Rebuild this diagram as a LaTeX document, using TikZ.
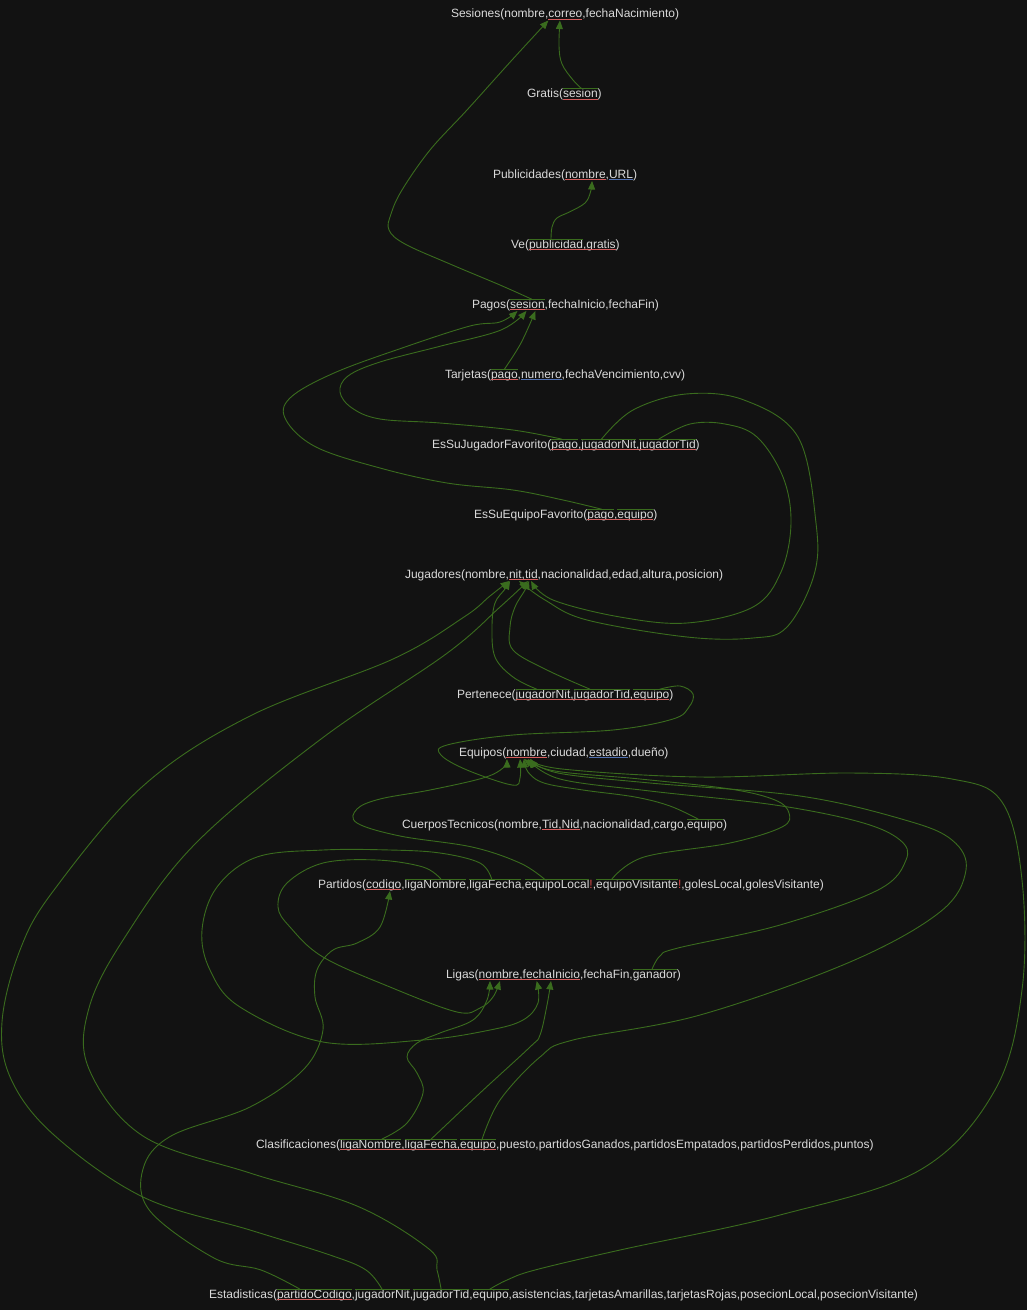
\documentclass[tikz,border=0pt]{standalone}
\usepackage{fontspec}
\setmainfont{Liberation Sans}
\usetikzlibrary{arrows.meta,calc}
\definecolor{bgc}{RGB}{18,18,18}
\definecolor{txtc}{RGB}{218,218,218}
\definecolor{linkc}{RGB}{58,108,30}
\definecolor{pkc}{RGB}{212,92,92}
\definecolor{ukc}{RGB}{80,112,178}
\definecolor{exc}{RGB}{215,70,70}
\newcommand\tabfont{\fontsize{12}{14}\selectfont}
\newcommand\nx[3]{\node[txt] (#1) at (#2.base east) {#3};}
\newcommand\pkul[2]{\draw[pkline] ($(#1.base west)+(0,1.8)$) -- ($(#2.base east)+(0,1.8)$);}
\newcommand\ukul[1]{\draw[ukline] ($(#1.base west)+(0,1.8)$) -- ($(#1.base east)+(0,1.8)$);}
\newcommand\fkol[1]{\draw[fkline] ($(#1.base west)+(0,-8.8)$) -- ($(#1.base east)+(0,-8.8)$);}
\newcommand\conn[6]{%
  \coordinate (#1a) at ($(#2.base west)+(#3,-8.8)$);
  \coordinate (#1b) at ($(#4.base west)+(#5,3)$);
  \draw[connline] plot[smooth,tension=0.6] coordinates {(#1a) #6 (#1b)};}
\tikzset{
  txt/.style={anchor=base west,inner sep=0pt,outer sep=0pt,text=txtc,font=\tabfont},
  pkline/.style={draw=pkc,line width=0.9pt},
  ukline/.style={draw=ukc,line width=0.9pt},
  fkline/.style={draw=linkc,line width=0.9pt},
  connline/.style={draw=linkc,line width=0.9pt,-{Triangle[length=8.5pt,width=7pt]},fill=none},
}
\begin{document}
\begin{tikzpicture}[x=1pt,y=-1pt]
\fill[bgc] (0,0) rectangle (1027,1310);
\useasboundingbox (0,0) rectangle (1027,1310);
% ---------- tables ----------
\node[txt] (S0) at (451,17.5) {Sesiones(nombre,};
\nx{Scorreo}{S0}{correo}
\nx{S1}{Scorreo}{,fechaNacimiento)}
\pkul{Scorreo}{Scorreo}

\node[txt] (G0) at (527,97.5) {Gratis(};
\nx{Gsesion}{G0}{sesion}
\nx{G1}{Gsesion}{)}
\pkul{Gsesion}{Gsesion}\fkol{Gsesion}

\node[txt] (P0) at (493,178) {Publicidades(};
\nx{Pnombre}{P0}{nombre}
\nx{P1}{Pnombre}{,}
\nx{PURL}{P1}{URL}
\nx{P2}{PURL}{)}
\pkul{Pnombre}{Pnombre}\ukul{PURL}

\node[txt] (V0) at (511,248) {Ve(};
\nx{Vpub}{V0}{publicidad}
\nx{V1}{Vpub}{,}
\nx{Vgra}{V1}{gratis}
\nx{V2}{Vgra}{)}
\pkul{Vpub}{Vgra}\fkol{Vpub}

\node[txt] (Pa0) at (472,308) {Pagos(};
\nx{Pasesion}{Pa0}{sesion}
\nx{Pa1}{Pasesion}{,fechaInicio,fechaFin)}
\pkul{Pasesion}{Pasesion}\fkol{Pasesion}

\node[txt] (T0) at (445,378) {Tarjetas(};
\nx{Tpago}{T0}{pago}
\nx{T1}{Tpago}{,}
\nx{Tnum}{T1}{numero}
\nx{T2}{Tnum}{,fechaVencimiento,cvv)}
\pkul{Tpago}{Tpago}\ukul{Tnum}\fkol{Tpago}

\node[txt] (J0) at (432,448) {EsSuJugadorFavorito(};
\nx{Jpago}{J0}{pago}
\nx{J1}{Jpago}{,}
\nx{Jnit}{J1}{jugadorNit}
\nx{J2}{Jnit}{,}
\nx{Jtid}{J2}{jugadorTid}
\nx{J3}{Jtid}{)}
\pkul{Jpago}{Jtid}\fkol{Jpago}\fkol{Jnit}\fkol{Jtid}

\node[txt] (E0) at (474,518) {EsSuEquipoFavorito(};
\nx{Epago}{E0}{pago}
\nx{E1}{Epago}{,}
\nx{Eequipo}{E1}{equipo}
\nx{E2}{Eequipo}{)}
\pkul{Epago}{Eequipo}\fkol{Epago}\fkol{Eequipo}

\node[txt] (Ju0) at (405,578) {Jugadores(nombre,};
\nx{Junit}{Ju0}{nit}
\nx{Ju1}{Junit}{,}
\nx{Jutid}{Ju1}{tid}
\nx{Ju2}{Jutid}{,nacionalidad,edad,altura,posicion)}
\pkul{Junit}{Jutid}

\node[txt] (Pe0) at (457,698) {Pertenece(};
\nx{Penit}{Pe0}{jugadorNit}
\nx{Pe1}{Penit}{,}
\nx{Petid}{Pe1}{jugadorTid}
\nx{Pe2}{Petid}{,}
\nx{Peequipo}{Pe2}{equipo}
\nx{Pe3}{Peequipo}{)}
\pkul{Penit}{Peequipo}\fkol{Penit}\fkol{Petid}\fkol{Peequipo}

\node[txt] (Eq0) at (459,756) {Equipos(};
\nx{Eqnombre}{Eq0}{nombre}
\nx{Eq1}{Eqnombre}{,ciudad,}
\nx{Eqest}{Eq1}{estadio}
\nx{Eq2}{Eqest}{,dueño)}
\pkul{Eqnombre}{Eqnombre}\ukul{Eqest}

\node[txt] (C0) at (402,828) {CuerposTecnicos(nombre,};
\nx{Ctid}{C0}{Tid}
\nx{C1}{Ctid}{,}
\nx{Cnid}{C1}{Nid}
\nx{C2}{Cnid}{,nacionalidad,cargo,}
\nx{Cequipo}{C2}{equipo}
\nx{C3}{Cequipo}{)}
\pkul{Ctid}{Cnid}\fkol{Cequipo}

\node[txt] (Pt0) at (318,888) {Partidos(};
\nx{Ptcod}{Pt0}{codigo}
\nx{Pt1}{Ptcod}{,}
\nx{Ptln}{Pt1}{ligaNombre}
\nx{Pt2}{Ptln}{,}
\nx{Ptlf}{Pt2}{ligaFecha}
\nx{Pt3}{Ptlf}{,}
\nx{Ptel}{Pt3}{equipoLocal}
\nx{Pt4}{Ptel}{{\color{exc}!},}
\nx{Ptev}{Pt4}{equipoVisitante}
\nx{Pt5}{Ptev}{{\color{exc}!},golesLocal,golesVisitante)}
\pkul{Ptcod}{Ptcod}\fkol{Ptln}\fkol{Ptlf}\fkol{Ptel}\fkol{Ptev}

\node[txt] (L0) at (446,978) {Ligas(};
\nx{Lnombre}{L0}{nombre}
\nx{L1}{Lnombre}{,}
\nx{Lfi}{L1}{fechaInicio}
\nx{L2}{Lfi}{,fechaFin,}
\nx{Lgan}{L2}{ganador}
\nx{L3}{Lgan}{)}
\pkul{Lnombre}{Lfi}\fkol{Lgan}

\node[txt] (Cl0) at (256,1148) {Clasificaciones(};
\nx{Clln}{Cl0}{ligaNombre}
\nx{Cl1}{Clln}{,}
\nx{Cllf}{Cl1}{ligaFecha}
\nx{Cl2}{Cllf}{,}
\nx{Cleq}{Cl2}{equipo}
\nx{Cl3}{Cleq}{,puesto,partidosGanados,partidosEmpatados,partidosPerdidos,puntos)}
\pkul{Clln}{Cleq}\fkol{Clln}\fkol{Cllf}\fkol{Cleq}

\node[txt] (Es0) at (209,1298) {Estadisticas(};
\nx{Escod}{Es0}{partidoCodigo}
\nx{Es1}{Escod}{,}
\nx{Esnit}{Es1}{jugadorNit}
\nx{Es2}{Esnit}{,}
\nx{Estid}{Es2}{jugadorTid}
\nx{Es3}{Estid}{,}
\nx{Eseq}{Es3}{equipo}
\nx{Es4}{Eseq}{,asistencias,tarjetasAmarillas,tarjetasRojas,posecionLocal,posecionVisitante)}
\pkul{Escod}{Escod}\fkol{Escod}\fkol{Esnit}\fkol{Estid}\fkol{Eseq}

% ---------- connectors ----------
\conn{k1}{Gsesion}{18.7}{Scorreo}{11.6}{(573,80) (562,64) (559,46)}
\conn{k2}{Pasesion}{21.7}{Scorreo}{0}{(500,285) (450,264) (405,244) (389,230) (391,214) (402,190) (430,150) (467,110) (512,60)}
\conn{k3}{Vpub}{22}{Pnombre}{27}{(552,227) (557,218) (570,211.7) (585,203) (590.5,192)}
\conn{k4}{Tpago}{13.4}{Pasesion}{25.4}{(521,343)}
\conn{k5}{Jpago}{10.6}{Pasesion}{16.4}{(513,430) (440,423) (380,419) (352,408) (340,392) (348,376) (380,362) (441,346) (501,330)}
\conn{k6}{Epago}{14.3}{Pasesion}{7.5}{(563,500) (513,490) (447,483) (380,468) (316,447) (286,420) (290,398) (334,373) (405,347) (470,326) (500,322)}
\conn{k7}{Jnit}{20}{Junit}{10}{(633,410) (686,394) (744,400) (798,437) (816,523) (814,575) (787,627) (753,638) (687,637) (587,620) (545,600)}
\conn{k8}{Jtid}{19.2}{Jutid}{6}{(690,424) (725,424) (757,437) (783,477) (791,523) (781,572) (753,607) (687,623) (620,617) (553,600)}
\conn{k9}{Penit}{21}{Junit}{1}{(513,677) (495,657) (492,627) (495,603) (505,589)}
\conn{k10}{Petid}{16.3}{Jutid}{4}{(547,670) (513,650) (510,627) (515,607) (525,590)}
\conn{k11}{Peequipo}{26.3}{Eqnombre}{13.6}{(680,686) (693,694) (689,707) (673,719) (613,730) (513,735) (447,745) (441,755) (467,770) (512,785) (520,778)}
\conn{k12}{Cequipo}{11.3}{Eqnombre}{17.6}{(670,806) (635,797) (583,790) (544,783) (528,772)}
\conn{k13}{Ptel}{19.8}{Eqnombre}{0.6}{(520,863) (472,847) (400,836) (357,823) (357,809) (380,799) (430,790) (483,778) (503,768)}
\conn{k14}{Ptev}{15.6}{Eqnombre}{17.6}{(644,857) (730,843) (782,827) (789,813) (775,800) (730,789) (640,779) (555,771)}
\conn{k15}{Lgan}{19.3}{Eqnombre}{21.6}{(660,956) (678,948) (780,925) (878,890) (906,860) (900,840) (860,822) (775,805) (650,791) (560,779)}
\conn{k16}{Cleq}{22}{Eqnombre}{23.6}{(500,1100) (540,1057) (573,1040) (700,1015) (850,962) (940,912) (966,870) (952,840) (905,820) (800,796) (650,783) (558,773)}
\conn{k17}{Eseq}{17}{Eqnombre}{24.6}{(507,1280) (535,1270) (620,1250) (780,1215) (920,1170) (995,1090) (1022,990) (1022,880) (1002,802) (952,779) (850,773) (700,777) (562,769)}
\conn{k18}{Ptln}{36.3}{Lnombre}{21.3}{(423,867) (377,860) (323,863) (287,883) (278,907) (290,927) (323,957) (390,987) (457,1012) (480,1008) (493,997)}
\conn{k19}{Ptlf}{22.3}{Lfi}{14}{(480,863) (440,853) (390,850) (323,850) (257,857) (217,887) (202,930) (210,970) (240,1007) (323,1042) (423,1040) (490,1030) (523,1020) (538,1003)}
\conn{k20}{Clln}{41.7}{Lnombre}{11.3}{(407,1123) (423,1093) (417,1073) (407,1057) (417,1043) (440,1033) (473,1020) (487,1000)}
\conn{k21}{Cllf}{26.3}{Lfi}{28.3}{(480,1093) (530,1047) (540,1035) (547,1005)}
\conn{k23}{Escod}{23}{Ptcod}{24}{(261,1270) (214,1258) (150,1211) (143,1169) (171,1136) (250,1107) (304,1069) (323,1030) (315,997) (317,970) (333,950) (357,943) (380,927)}
\conn{k24}{Esnit}{27}{Junit}{0}{(366,1270) (330,1255) (250,1230) (143,1197) (54,1135) (11,1079) (2,1022) (20,950) (54,890) (143,786) (250,716) (393,659) (464,617) (490,596)}
\conn{k25}{Estid}{28}{Jutid}{3}{(437,1270) (429,1249) (357,1206) (250,1173) (143,1136) (89,1069) (89,1008) (125,937) (196,843) (321,739) (446,654) (500,607)}
\end{tikzpicture}
\end{document}
